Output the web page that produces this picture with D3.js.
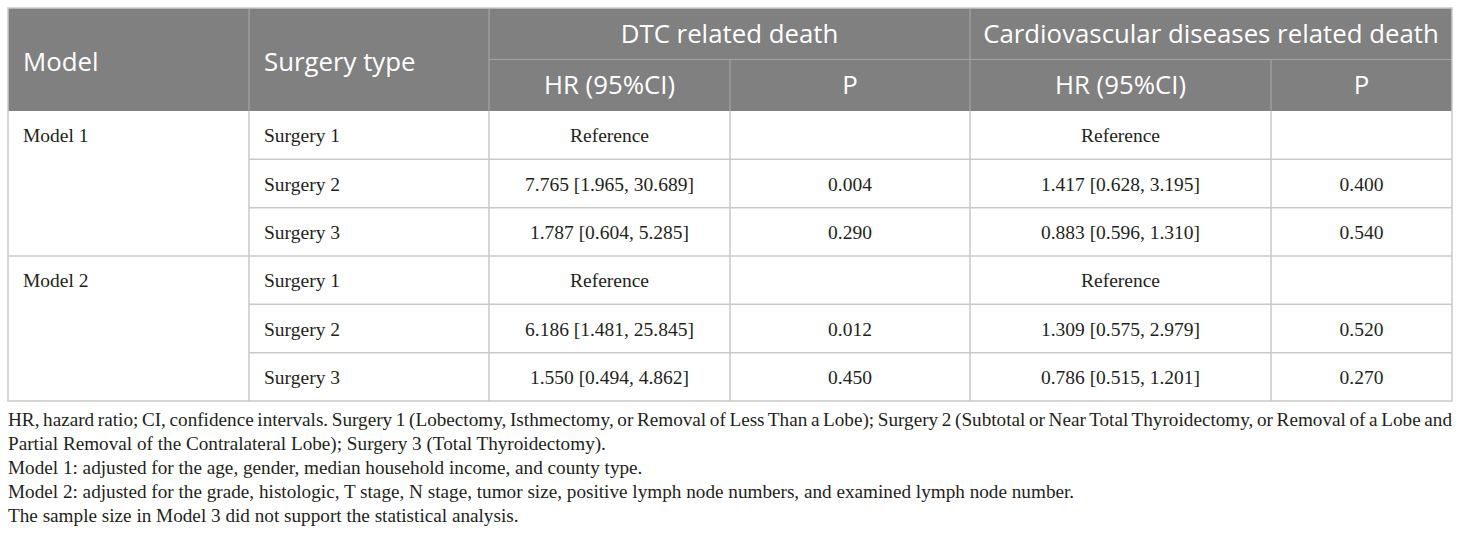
<!DOCTYPE html>
<html>
<head>
<meta charset="utf-8">
<title>Surgery type and death risk</title>
<script src="https://d3js.org/d3.v7.min.js"></script>
<style>
body {
  margin: 0;
  background: #fff;
}
svg {
  display: block;
}
.hdr {
  font-family: "Open Sans", "Noto Sans", sans-serif;
  font-size: 25.8px;
  fill: #fff;
}
.cell {
  font-family: "Liberation Serif", "DejaVu Serif", serif;
  font-size: 19.5px;
  fill: #231f20;
}
.note {
  font-family: "Liberation Serif", "DejaVu Serif", serif;
  font-size: 19.2px;
  fill: #231f20;
}
</style>
</head>
<body>
<script>

// table content
var models = ["Model 1", "Model 2"];
var surgeries = ["Surgery 1", "Surgery 2", "Surgery 3"];
var groups = ["DTC related death", "Cardiovascular diseases related death"];
var subHeads = ["HR (95%CI)", "P"];

var dtcHR = ["Reference", "7.765 [1.965, 30.689]", "1.787 [0.604, 5.285]",
             "Reference", "6.186 [1.481, 25.845]", "1.550 [0.494, 4.862]"];
var dtcP = ["", "0.004", "0.290", "", "0.012", "0.450"];
var cvdHR = ["Reference", "1.417 [0.628, 3.195]", "0.883 [0.596, 1.310]",
             "Reference", "1.309 [0.575, 2.979]", "0.786 [0.515, 1.201]"];
var cvdP = ["", "0.400", "0.540", "", "0.520", "0.270"];

var notes = [
  "HR, hazard ratio; CI, confidence intervals. Surgery 1 (Lobectomy, Isthmectomy, or Removal of Less Than a Lobe); Surgery 2 (Subtotal or Near Total Thyroidectomy, or Removal of a Lobe and",
  "Partial Removal of the Contralateral Lobe); Surgery 3 (Total Thyroidectomy).",
  "Model 1: adjusted for the age, gender, median household income, and county type.",
  "Model 2: adjusted for the grade, histologic, T stage, N stage, tumor size, positive lymph node numbers, and examined lymph node number.",
  "The sample size in Model 3 did not support the statistical analysis."
];

var width = 1460, height = 537;

var svg = d3.select("body").append("svg")
    .attr("width", width)
    .attr("height", height);

// column edges (share of the table width)
var colW = [241, 240, 241, 240, 301, 181];
var colEdge = [0];
colW.forEach(function(w) { colEdge.push(colEdge[colEdge.length - 1] + w); });
var x = d3.scaleLinear()
    .domain([0, colEdge[colEdge.length - 1]])
    .range([8, 1452]);

// header rows and body rows
var hy = d3.scaleLinear().domain([0, 2]).range([8, 111]);
var rows = d3.range(6);
var y = d3.scaleLinear().domain([0, 6]).range([111, 401]);

var gridCol = "#c9c9c9";
var headCol = "#808080";
var headLine = "#a3a3a3";

// header background
svg.append("rect")
    .attr("x", x(0)).attr("y", hy(0))
    .attr("width", x(colEdge[6]) - x(0))
    .attr("height", hy(2) - hy(0))
    .attr("fill", headCol);

var lines = svg.append("g");

// header lines
lines.append("line")
    .attr("x1", x(colEdge[2])).attr("x2", x(colEdge[6]))
    .attr("y1", hy(1)).attr("y2", hy(1))
    .attr("stroke", headLine).attr("stroke-width", 1.2);
[1, 2, 4].forEach(function(c) {
  lines.append("line")
      .attr("x1", x(colEdge[c])).attr("x2", x(colEdge[c]))
      .attr("y1", hy(0)).attr("y2", hy(2))
      .attr("stroke", headLine).attr("stroke-width", 1.2);
});
[3, 5].forEach(function(c) {
  lines.append("line")
      .attr("x1", x(colEdge[c])).attr("x2", x(colEdge[c]))
      .attr("y1", hy(1)).attr("y2", hy(2))
      .attr("stroke", headLine).attr("stroke-width", 1.2);
});

// body horizontal lines
rows.slice(1).forEach(function(r) {
  var full = (r % 3 === 0);
  lines.append("line")
      .attr("x1", x(full ? 0 : colEdge[1])).attr("x2", x(colEdge[6]))
      .attr("y1", y(r)).attr("y2", y(r))
      .attr("stroke", gridCol).attr("stroke-width", 1.5);
});
// body vertical lines
d3.range(1, 6).forEach(function(c) {
  lines.append("line")
      .attr("x1", x(colEdge[c])).attr("x2", x(colEdge[c]))
      .attr("y1", y(0)).attr("y2", y(6))
      .attr("stroke", gridCol).attr("stroke-width", 1.5);
});
// outer border
lines.append("rect")
    .attr("x", x(0)).attr("y", hy(0))
    .attr("width", x(colEdge[6]) - x(0))
    .attr("height", y(6) - hy(0))
    .attr("fill", "none")
    .attr("stroke", gridCol).attr("stroke-width", 1.5);

// header text
var head = svg.append("g");
head.append("text").attr("class", "hdr")
    .attr("x", x(0) + 15).attr("y", 71).text("Model");
head.append("text").attr("class", "hdr")
    .attr("x", x(colEdge[1]) + 15).attr("y", 71).text("Surgery type");
groups.forEach(function(g, i) {
  var c0 = colEdge[2 + i * 2], c1 = colEdge[4 + i * 2];
  head.append("text").attr("class", "hdr")
      .attr("x", (x(c0) + x(c1)) / 2).attr("y", 43)
      .attr("text-anchor", "middle").text(g);
  subHeads.forEach(function(s, j) {
    var a = colEdge[2 + i * 2 + j], b = colEdge[3 + i * 2 + j];
    head.append("text").attr("class", "hdr")
        .attr("x", (x(a) + x(b)) / 2).attr("y", 94)
        .attr("text-anchor", "middle").text(s);
  });
});

// body text
var body = svg.append("g");
function base(r) { return (y(r) + y(r + 1)) / 2 + 7; }

models.forEach(function(m, i) {
  body.append("text").attr("class", "cell")
      .attr("x", x(0) + 15).attr("y", base(i * 3)).text(m);
});
rows.forEach(function(r) {
  body.append("text").attr("class", "cell")
      .attr("x", x(colEdge[1]) + 15).attr("y", base(r))
      .text(surgeries[r % 3]);
});
var cols = [dtcHR, dtcP, cvdHR, cvdP];
cols.forEach(function(vals, c) {
  var cx = (x(colEdge[2 + c]) + x(colEdge[3 + c])) / 2;
  body.selectAll(null)
      .data(vals)
    .enter().append("text")
      .attr("class", "cell")
      .attr("x", cx)
      .attr("y", function(d, r) { return base(r); })
      .attr("text-anchor", "middle")
      .text(function(d) { return d; });
});

// footnotes
var ny = d3.scaleLinear().domain([0, 4]).range([426, 522]);
var foot = svg.append("g");
notes.forEach(function(n, i) {
  var t = foot.append("text").attr("class", "note")
      .attr("x", 8).attr("y", ny(i)).text(n);
  if (i === 0) {
    // justify first line to the table width
    var w = t.node().getComputedTextLength();
    var gaps = n.split(" ").length - 1;
    t.attr("word-spacing", ((1452 - 8) - w) / gaps);
  }
});

</script>
</body>
</html>
